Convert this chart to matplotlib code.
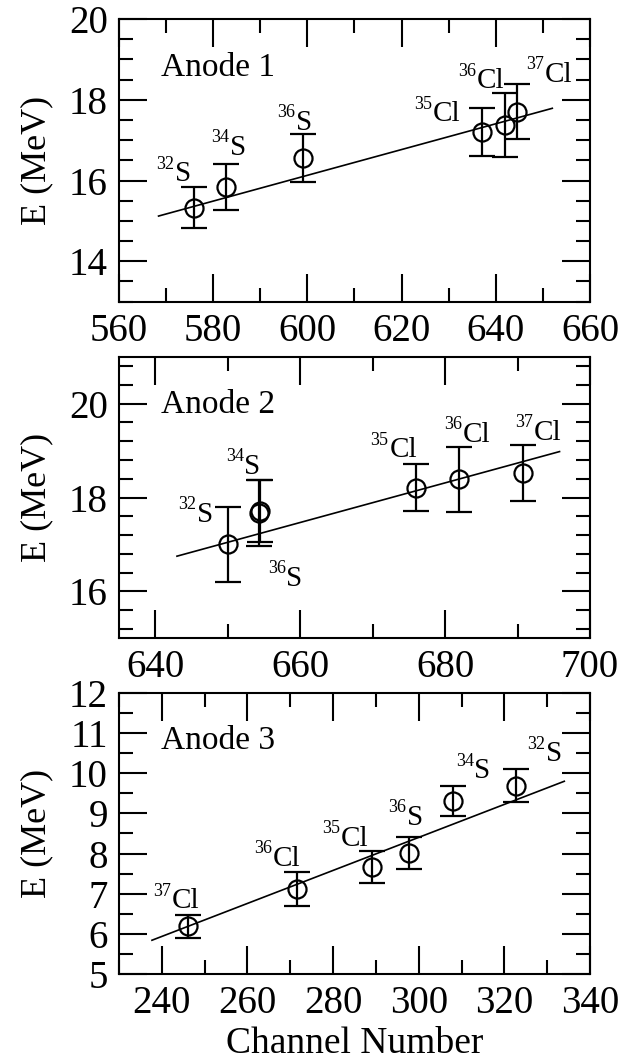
import matplotlib
matplotlib.use("Agg")
import matplotlib.pyplot as plt
from matplotlib.ticker import MultipleLocator

plt.rcParams['font.family'] = ['Liberation Serif', 'DejaVu Serif']

# ---- data ----
# Anode 1
a1_labels = ['32S', '34S', '36S', '35Cl', '36Cl', '37Cl']
a1_ch = [576.0, 582.8, 599.0, 637.0, 642.0, 644.6]
a1_E = [15.33, 15.84, 16.56, 17.20, 17.38, 17.71]
a1_err = [0.50, 0.57, 0.60, 0.60, 0.80, 0.68]
a1_fit_ch = [568.4, 652.0]
a1_fit_E = [15.12, 17.79]

# Anode 2 (34S and 36S nearly on top of each other)
a2_labels = ['32S', '34S', '36S', '35Cl', '36Cl', '37Cl']
a2_ch = [650.1, 654.4, 654.3, 676.0, 681.9, 690.8]
a2_E = [17.00, 17.71, 17.67, 18.21, 18.39, 18.53]
a2_err = [0.80, 0.66, 0.70, 0.50, 0.69, 0.60]
a2_fit_ch = [643.0, 695.8]
a2_fit_E = [16.75, 18.98]

# Anode 3
a3_labels = ['37Cl', '36Cl', '35Cl', '36S', '34S', '32S']
a3_ch = [246.0, 271.6, 289.0, 297.7, 307.9, 322.8]
a3_E = [6.19, 7.12, 7.66, 8.01, 9.30, 9.69]
a3_err = [0.29, 0.43, 0.40, 0.40, 0.37, 0.41]
a3_fit_ch = [237.7, 334.0]
a3_fit_E = [5.84, 9.80]

# label anchors: left edge / baseline of the element symbol, data coords
a1_lab_pos = [(571.8, 15.98), (583.6, 16.64), (597.6, 17.26),
              (626.7, 17.47), (636.0, 18.29), (650.3, 18.45)]
a2_lab_pos = [(645.8, 17.48), (652.3, 18.51), (658.1, 16.12),
              (672.3, 18.86), (682.5, 19.19), (692.3, 19.23)]
a3_lab_pos = [(242.3, 6.64), (266.0, 7.70), (281.9, 8.20),
              (297.2, 8.72), (313.0, 9.88), (329.8, 10.30)]


def iso_label(ax, lab, x, y):
    mass = ''.join(c for c in lab if c.isdigit())
    elem = ''.join(c for c in lab if not c.isdigit())
    ax.annotate(elem, (x, y), xytext=(0, 0), textcoords='offset points',
                fontsize=21, ha='left', va='baseline')
    ax.annotate(mass, (x, y), xytext=(-0.5, 9), textcoords='offset points',
                fontsize=13, ha='right', va='baseline')


fig = plt.figure(figsize=(6.23, 10.62), dpi=100)
boxes = [[0.191, 0.716, 0.756, 0.266],
         [0.191, 0.399, 0.756, 0.265],
         [0.191, 0.0829, 0.756, 0.2646]]

panels = [
    ('Anode 1', a1_labels, a1_ch, a1_E, a1_err, a1_fit_ch, a1_fit_E, a1_lab_pos,
     (560, 660), (13, 20), 20, 10, 2, 0.5),
    ('Anode 2', a2_labels, a2_ch, a2_E, a2_err, a2_fit_ch, a2_fit_E, a2_lab_pos,
     (635, 700), (15, 21), 20, 10, 2, 0.4),
    ('Anode 3', a3_labels, a3_ch, a3_E, a3_err, a3_fit_ch, a3_fit_E, a3_lab_pos,
     (230, 340), (5, 12), 20, 10, 1, 0.5),
]

for box, p in zip(boxes, panels):
    (name, labs, ch, E, err, fch, fE, lpos, xl, yl, xmaj, xmin, ymaj, ymin) = p
    ax = fig.add_axes(box)
    ax.plot(fch, fE, color='black', linewidth=1.2)
    ax.errorbar(ch, E, yerr=err, fmt='o', markersize=13, mfc='none', mec='black',
                mew=1.6, ecolor='black', elinewidth=1.6, capsize=9.5, capthick=1.6)
    for lab, (lx, ly) in zip(labs, lpos):
        iso_label(ax, lab, lx, ly)
    ax.text(0.09, 0.80, name, transform=ax.transAxes, fontsize=24,
            ha='left', va='baseline')

    ax.set_xlim(*xl)
    ax.set_ylim(*yl)
    ax.xaxis.set_major_locator(MultipleLocator(xmaj))
    ax.xaxis.set_minor_locator(MultipleLocator(xmin))
    ax.yaxis.set_major_locator(MultipleLocator(ymaj))
    ax.yaxis.set_minor_locator(MultipleLocator(ymin))
    ax.tick_params(which='both', direction='in', top=True, right=True, width=1.5)
    ax.tick_params(which='major', length=20, labelsize=28, pad=8)
    ax.tick_params(which='minor', length=10)
    for s in ax.spines.values():
        s.set_linewidth(1.5)
    ax.set_ylabel('E (MeV)', fontsize=26)
    ax.yaxis.set_label_coords(-0.14, 0.5)

ax.set_xlabel('Channel Number', fontsize=27, labelpad=3)

fig.savefig('out.png', dpi=100)
